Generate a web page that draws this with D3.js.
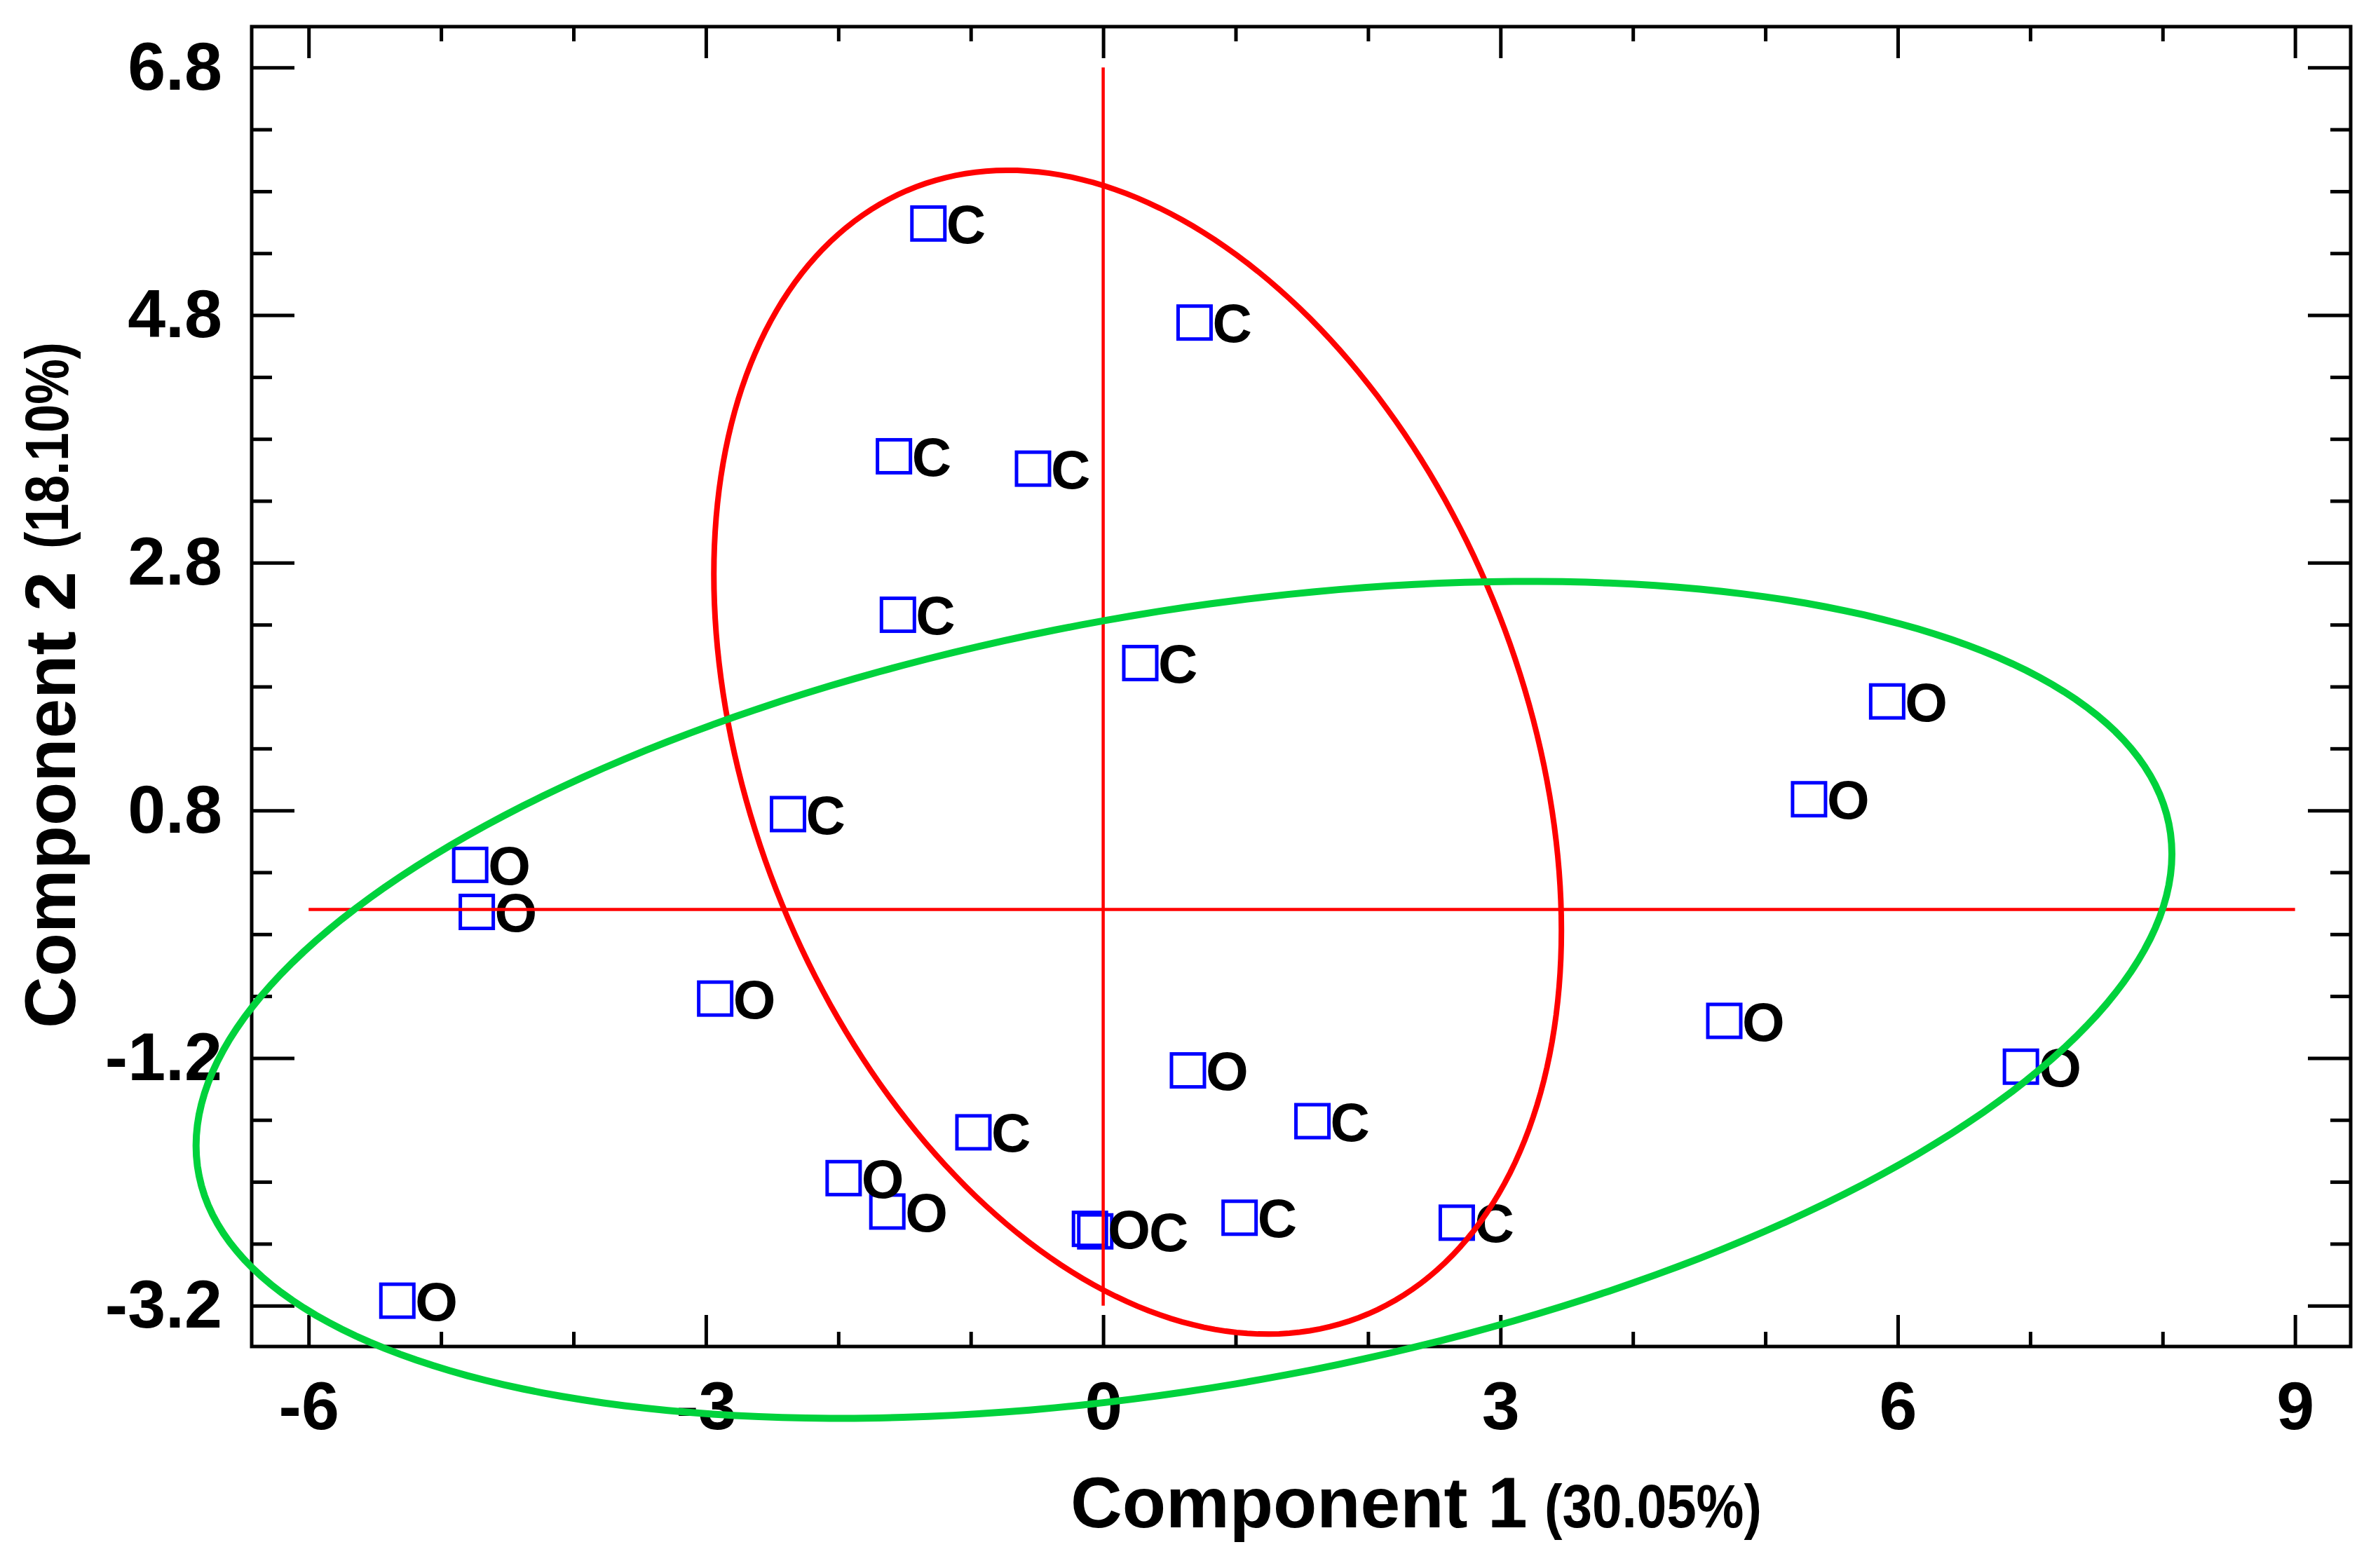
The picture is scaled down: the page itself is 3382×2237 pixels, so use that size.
<!DOCTYPE html>
<html>
<head>
<meta charset="utf-8">
<script src="https://cdn.jsdelivr.net/npm/d3@7/dist/d3.min.js"></script>
<style>
  body { margin: 0; background: #fff; }
  text { font-family: "Liberation Sans", Arial, sans-serif; }
</style>
</head>
<body>
<script>
'use strict';

// sample scores on the two components
const groups = ["C", "C", "C", "C", "C", "C", "C",
                "O", "O", "O", "O", "O", "O", "O", "O",
                "C", "C", "O", "O", "O", "C", "C", "C", "O"];
const comp1 = [-1.32, 0.69, -1.58, -0.53, -1.55, 0.28, -2.38,
               5.92, 5.33, -4.78, -4.73, -2.93, 4.69, 0.64, 6.93,
               -0.98, 1.58, -1.96, -1.63, -0.10, -0.06, 1.03, 2.67, -5.33];
const comp2 = [5.54, 4.74, 3.66, 3.56, 2.38, 1.99, 0.77,
               1.68, 0.89, 0.36, -0.02, -0.72, -0.90, -1.30, -1.27,
               -1.80, -1.71, -2.17, -2.44, -2.58, -2.60, -2.49, -2.53, -3.16];

// axis ticks
const xTicks = [-6, -3, 0, 3, 6, 9];
const xMinorTicks = [-5, -4, -2, -1, 1, 2, 4, 5, 7, 8];
const yTicks = [-3.2, -1.2, 0.8, 2.8, 4.8, 6.8];
const yMinorTicks = [-2.7, -2.2, -1.7, -0.7, -0.2, 0.3, 1.3, 1.8, 2.3,
                     3.3, 3.8, 4.3, 5.3, 5.8, 6.3];

// group ellipses: centre, half width, half height (data units), tilt phase (deg)
const ellipseGroups = ["C", "O"];
const ellipseCx = [0.26, 0.61];
const ellipseCy = [1.27, -0.73];
const ellipseHalfW = [3.20, 7.46];
const ellipseHalfH = [4.70, 3.38];
const ellipsePhase = [107.8, 69.6];
const ellipseColors = ["#ff0000", "#00d23c"];
const ellipseWidths = [8, 10];

// red cross through the origin
const crossX = [-6, 9];
const crossY = [-3.2, 6.8];

(function() {
  const W = 3382, H = 2237;
  const mLeft = 359, mRight = 3353, mTop = 38, mBottom = 1921;

  const svg = d3.select('body').append('svg')
    .attr('width', W)
    .attr('height', H);

  svg.append('rect').attr('width', W).attr('height', H).attr('fill', '#fff');

  const x = d3.scaleLinear().domain([-6.43, 9.42]).range([mLeft, mRight]);
  const y = d3.scaleLinear().domain([-3.53, 7.13]).range([mBottom, mTop]);

  // axes, ticks pointing inward on all four sides
  function addAxis(axis, tx, ty, values, size, labels) {
    const g = svg.append('g')
      .attr('transform', `translate(${tx},${ty})`)
      .call(axis.tickValues(values).tickSize(-size).tickSizeOuter(0)
        .tickFormat(labels ? (d => String(d)) : ''));
    g.select('.domain').remove();
    g.selectAll('.tick line').attr('stroke', '#000').attr('stroke-width', 5);
    g.selectAll('.tick text')
      .attr('fill', '#000')
      .style('font-size', '97px')
      .style('font-weight', 'bold');
    return g;
  }

  addAxis(d3.axisBottom(x).tickPadding(49), 0, mBottom, xTicks, 45, true);
  addAxis(d3.axisBottom(x), 0, mBottom, xMinorTicks, 21, false);
  addAxis(d3.axisTop(x), 0, mTop, xTicks, 45, false);
  addAxis(d3.axisTop(x), 0, mTop, xMinorTicks, 21, false);
  addAxis(d3.axisLeft(y).tickPadding(42), mLeft, 0, yTicks, 61, true);
  addAxis(d3.axisLeft(y), mLeft, 0, yMinorTicks, 29, false);
  addAxis(d3.axisRight(y), mRight, 0, yTicks, 61, false);
  addAxis(d3.axisRight(y), mRight, 0, yMinorTicks, 29, false);

  // frame
  svg.append('rect')
    .attr('x', mLeft).attr('y', mTop)
    .attr('width', mRight - mLeft).attr('height', mBottom - mTop)
    .attr('fill', 'none').attr('stroke', '#000').attr('stroke-width', 5);

  // points: open blue squares with the group letter to the right
  const pts = groups.map((g, i) => ({ g: g, cx: x(comp1[i]), cy: y(comp2[i]) }));
  const side = 47;

  svg.append('g').selectAll('rect')
    .data(pts)
    .enter()
    .append('rect')
      .attr('x', d => d.cx - side / 2)
      .attr('y', d => d.cy - side / 2)
      .attr('width', side)
      .attr('height', side)
      .attr('fill', 'none')
      .attr('stroke', '#0000ff')
      .attr('stroke-width', 5);

  // labels; push a label right when it would sit on top of an earlier one
  const placed = [];
  const labelG = svg.append('g');
  pts.forEach(d => {
    let bx = d.cx + side / 2 + 2;
    const t = labelG.append('text')
      .attr('x', bx)
      .attr('y', d.cy)
      .attr('dy', '0.36em')
      .style('font-size', '78px')
      .style('font-weight', 'bold')
      .attr('fill', '#000')
      .text(d.g);
    const w = t.node().getComputedTextLength();
    placed.forEach(p => {
      if (Math.abs(p.y - d.cy) < 50 && bx < p.x + p.w && bx + w > p.x) {
        bx = p.x + p.w - 2;
      }
    });
    t.attr('x', bx);
    placed.push({ x: bx, y: d.cy, w: w });
  });

  // reference cross
  svg.append('line')
    .attr('x1', x(crossX[0])).attr('x2', x(crossX[1]))
    .attr('y1', y(0)).attr('y2', y(0))
    .attr('stroke', '#ff0000').attr('stroke-width', 4.5);
  svg.append('line')
    .attr('x1', x(0)).attr('x2', x(0))
    .attr('y1', y(crossY[0])).attr('y2', y(crossY[1]))
    .attr('stroke', '#ff0000').attr('stroke-width', 4.5);

  // ellipses
  const steps = d3.range(0, 240).map(i => i / 240 * 2 * Math.PI);
  ellipseGroups.forEach((g, k) => {
    const ph = ellipsePhase[k] * Math.PI / 180;
    const line = d3.line()
      .x(t => x(ellipseCx[k] + ellipseHalfW[k] * Math.cos(t)))
      .y(t => y(ellipseCy[k] + ellipseHalfH[k] * Math.cos(t + ph)))
      .curve(d3.curveLinearClosed);
    svg.append('path')
      .attr('d', line(steps))
      .attr('fill', 'none')
      .attr('stroke', ellipseColors[k])
      .attr('stroke-width', ellipseWidths[k]);
  });

  // axis titles
  svg.append('text')
    .attr('x', 1527).attr('y', 2179)
    .style('font-size', '102px').style('font-weight', 'bold')
    .text('Component 1');
  svg.append('text')
    .attr('x', 2203).attr('y', 2179)
    .attr('textLength', 310).attr('lengthAdjust', 'spacingAndGlyphs')
    .style('font-size', '88px').style('font-weight', 'bold')
    .text('(30.05%)');

  svg.append('text')
    .attr('transform', 'translate(107,1467)rotate(-90)')
    .style('font-size', '102px').style('font-weight', 'bold')
    .text('Component 2');
  svg.append('text')
    .attr('transform', 'translate(97,783)rotate(-90)')
    .attr('textLength', 295).attr('lengthAdjust', 'spacingAndGlyphs')
    .style('font-size', '88px').style('font-weight', 'bold')
    .text('(18.10%)');
})();
</script>
</body>
</html>
